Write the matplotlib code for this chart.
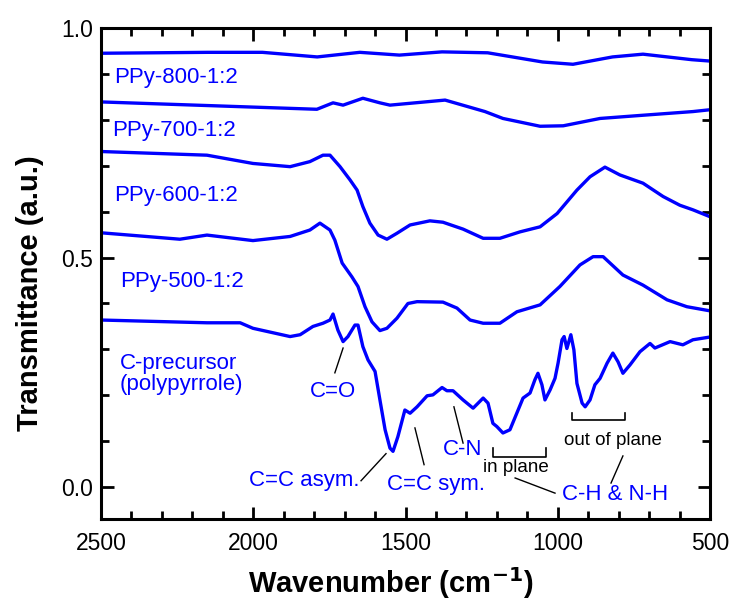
import numpy as np
import matplotlib
matplotlib.use("Agg")
import matplotlib.pyplot as plt
from matplotlib.ticker import MultipleLocator, FormatStrFormatter

plt.rcParams['font.family'] = ['Liberation Sans', 'DejaVu Sans']

# spectra (wavenumber, transmittance)
wn_800 = [2500, 2150, 1970, 1790, 1650, 1520, 1380, 1230, 1050, 950, 820, 720, 560, 500]
tr_800 = [0.945, 0.947, 0.947, 0.937, 0.947, 0.941, 0.948, 0.946, 0.926, 0.921, 0.937, 0.943, 0.931, 0.928]

wn_700 = [2500, 1791, 1738, 1705, 1640, 1584, 1551, 1370, 1239, 1180, 1058, 982, 861, 720, 556, 500]
tr_700 = [0.839, 0.823, 0.837, 0.832, 0.847, 0.837, 0.832, 0.843, 0.818, 0.803, 0.786, 0.787, 0.803, 0.810, 0.818, 0.822]

wn_600 = [2500, 2152, 2001, 1879, 1814, 1771, 1748, 1715, 1682, 1659, 1640, 1617, 1590, 1561, 1528, 1485,
          1420, 1377, 1311, 1245, 1190, 1124, 1058, 1002, 937, 894, 845, 796, 720, 654, 599, 556, 500]
tr_600 = [0.731, 0.723, 0.705, 0.698, 0.709, 0.723, 0.723, 0.698, 0.669, 0.647, 0.611, 0.575, 0.549, 0.540,
          0.553, 0.571, 0.580, 0.577, 0.562, 0.542, 0.542, 0.556, 0.567, 0.596, 0.647, 0.676, 0.697, 0.680,
          0.662, 0.633, 0.614, 0.604, 0.589]

wn_500 = [2500, 2241, 2152, 2001, 1879, 1814, 1781, 1748, 1732, 1708, 1676, 1656, 1633, 1610, 1584, 1561,
          1528, 1492, 1462, 1377, 1331, 1288, 1245, 1190, 1134, 1058, 993, 927, 884, 851, 786, 720, 641,
          576, 500]
tr_500 = [0.554, 0.540, 0.549, 0.537, 0.546, 0.560, 0.575, 0.560, 0.538, 0.488, 0.458, 0.437, 0.393, 0.360,
          0.341, 0.346, 0.368, 0.400, 0.404, 0.403, 0.390, 0.364, 0.357, 0.357, 0.382, 0.397, 0.437, 0.484,
          0.502, 0.502, 0.462, 0.440, 0.408, 0.393, 0.384]

wn_pre = [2500, 2152, 2043, 2001, 1879, 1846, 1804, 1771, 1748, 1738, 1722, 1705, 1689, 1666, 1656, 1640,
          1623, 1600, 1584, 1567, 1551, 1541, 1525, 1502, 1485, 1462, 1429, 1410, 1380, 1364, 1344, 1311,
          1278, 1245, 1229, 1213, 1200, 1180, 1157, 1114, 1091, 1075, 1065, 1052, 1042, 1025, 1009, 999,
          986, 979, 970, 957, 947, 937, 920, 910, 894, 878, 861, 838, 819, 802, 786, 763, 730, 697, 681,
          631, 589, 556, 500]
tr_pre = [0.364, 0.358, 0.358, 0.346, 0.328, 0.332, 0.350, 0.357, 0.364, 0.377, 0.342, 0.317, 0.328, 0.353,
          0.353, 0.306, 0.277, 0.252, 0.190, 0.125, 0.085, 0.078, 0.110, 0.168, 0.161, 0.175, 0.199, 0.201,
          0.217, 0.210, 0.210, 0.190, 0.172, 0.194, 0.183, 0.139, 0.132, 0.118, 0.125, 0.194, 0.205, 0.234,
          0.248, 0.223, 0.190, 0.212, 0.237, 0.270, 0.321, 0.328, 0.302, 0.332, 0.299, 0.226, 0.183, 0.175,
          0.190, 0.223, 0.237, 0.270, 0.292, 0.273, 0.248, 0.266, 0.295, 0.313, 0.303, 0.317, 0.310, 0.321,
          0.327]

series = [(wn_800, tr_800), (wn_700, tr_700), (wn_600, tr_600), (wn_500, tr_500), (wn_pre, tr_pre)]
names = ["PPy-800-1:2", "PPy-700-1:2", "PPy-600-1:2", "PPy-500-1:2", "C-precursor\n(polypyrrole)"]
name_pos = [(2457, 0.893), (2464, 0.776), (2457, 0.636), (2438, 0.447), (2438, 0.247)]

blue = "#0000ff"
fs = 16

fig = plt.figure(figsize=(7.33, 6.07), dpi=100)
ax = fig.add_axes([101 / 733, 1 - 519.3 / 607, 609 / 733, 491.3 / 607])

for (x, y) in series:
    ax.plot(x, y, color=blue, lw=2.4, solid_joinstyle="round")

for name, (x, y) in zip(names, name_pos):
    ax.text(x, y, name, color=blue, fontsize=fs, va="center", ha="left", linespacing=1.0)

# band assignments
ax.text(1738, 0.208, "C=O", color=blue, fontsize=fs, ha="center", va="center")
ax.plot([1732, 1705], [0.249, 0.303], color="k", lw=1)
ax.text(1652, 0.014, "C=C asym.", color=blue, fontsize=fs, ha="right", va="center")
ax.plot([1646, 1564], [0.014, 0.073], color="k", lw=1)
ax.text(1561, 0.005, "C=C sym.", color=blue, fontsize=fs, ha="left", va="center")
ax.plot([1469, 1439], [0.129, 0.049], color="k", lw=1)
ax.text(1377, 0.081, "C-N", color=blue, fontsize=fs, ha="left", va="center")
ax.plot([1341, 1311], [0.175, 0.096], color="k", lw=1)

ax.text(1245, 0.042, "in plane", color="k", fontsize=13.5, ha="left", va="center")
ax.plot([1213, 1213, 1039, 1039], [0.086, 0.066, 0.066, 0.086], color="k", lw=1.2)
ax.text(979, 0.101, "out of plane", color="k", fontsize=13.5, ha="left", va="center")
ax.plot([953, 953, 779, 779], [0.162, 0.147, 0.147, 0.162], color="k", lw=1.2)

ax.text(986, -0.017, "C-H & N-H", color=blue, fontsize=fs, ha="left", va="center")
ax.plot([1140, 1009], [0.020, -0.013], color="k", lw=1)
ax.plot([825, 786], [0.009, 0.068], color="k", lw=1)

ax.set_xlim(2500, 500)
ax.set_ylim(-0.07, 1.0)
ax.xaxis.set_major_locator(MultipleLocator(500))
ax.xaxis.set_minor_locator(MultipleLocator(100))
ax.yaxis.set_major_locator(MultipleLocator(0.5))
ax.yaxis.set_minor_locator(MultipleLocator(0.1))
ax.yaxis.set_major_formatter(FormatStrFormatter("%.1f"))
ax.tick_params(which="both", direction="in", top=True, right=True, width=2, labelsize=16.5)
ax.tick_params(axis="x", pad=9)
ax.tick_params(axis="y", pad=6)
ax.tick_params(which="major", length=9)
ax.tick_params(which="minor", length=5.5)
for s in ax.spines.values():
    s.set_linewidth(2.2)

ax.set_xlabel("Wavenumber (cm$^{\\mathbf{-1}}$)", fontsize=21, fontweight="bold")
ax.xaxis.set_label_coords(0.476, -0.094)
ax.set_ylabel("Transmittance (a.u.)", fontsize=21, fontweight="bold")
ax.yaxis.set_label_coords(-0.093, 0.46)

fig.savefig("out.png", dpi=100)
